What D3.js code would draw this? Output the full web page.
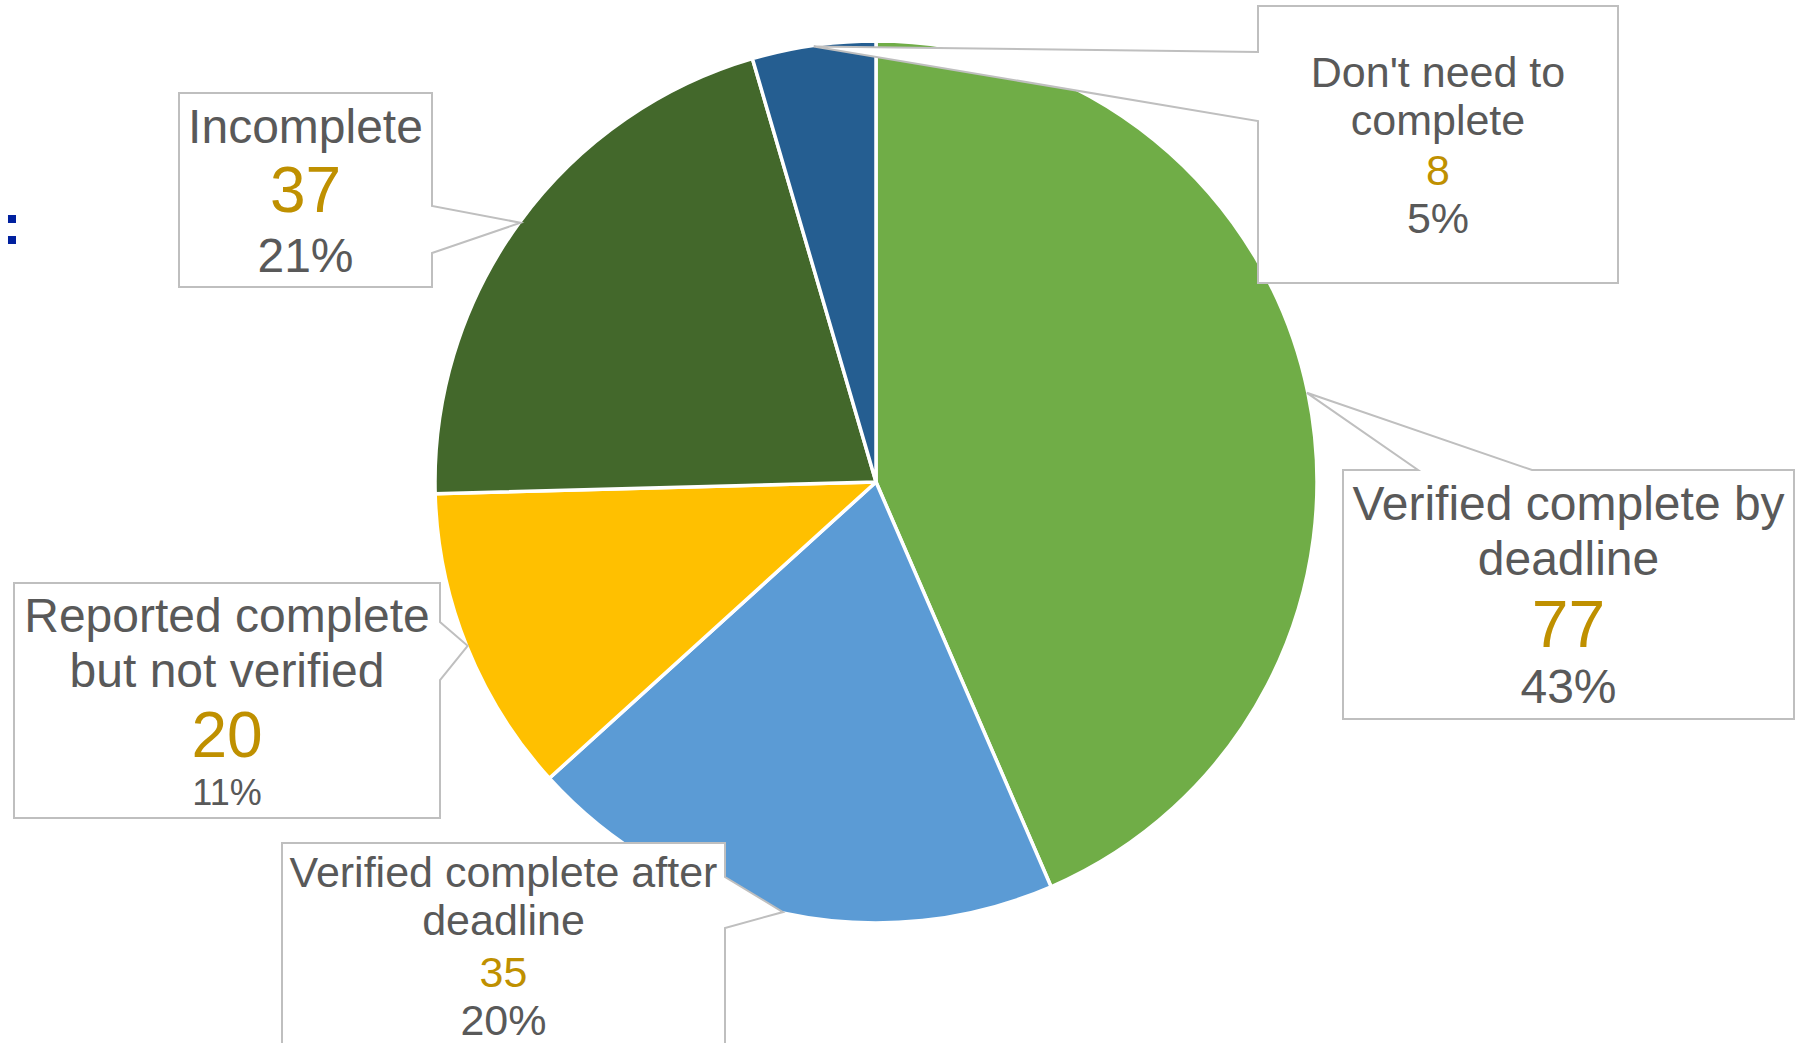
<!DOCTYPE html>
<html>
<head>
<meta charset="utf-8">
<script src="https://cdn.jsdelivr.net/npm/d3@7"></script>
<style>
  html, body { margin: 0; padding: 0; background: #fff; }
  svg { display: block; font-family: "Liberation Sans", Arial, sans-serif; }
</style>
</head>
<body>
<svg id="chart" width="1795" height="1043"></svg>
<script>
// data, clockwise from 12 o'clock
const categories = [
  "Verified complete by deadline",
  "Verified complete after deadline",
  "Reported complete but not verified",
  "Incomplete",
  "Don't need to complete"
];
const counts = [77, 35, 20, 37, 8];
const percentLabels = ["43%", "20%", "11%", "21%", "5%"];
const sliceColors = ["#70AD47", "#5B9BD5", "#FFC000", "#43682B", "#255E91"];

// callout boxes (layout only)
const callouts = [
  { box: [1343, 470, 1794, 719], side: "top", base: [1418, 1532],
    lines: ["Verified complete by", "deadline"], sizes: [48, 66, 48], baselines: [520, 575, 647, 703] },
  { box: [282, 843, 725, 1060], side: "right", base: [877, 928],
    lines: ["Verified complete after", "deadline"], sizes: [43, 43, 43], baselines: [887, 935, 987, 1035] },
  { box: [14, 583, 440, 818], side: "right", base: [622, 680],
    lines: ["Reported complete", "but not verified"], sizes: [48, 64, 36], baselines: [632, 687, 757, 805] },
  { box: [179, 93, 432, 287], side: "right", base: [206, 253],
    lines: ["Incomplete"], sizes: [48, 64, 48], baselines: [143, 212, 272] },
  { box: [1258, 6, 1618, 283], side: "left", base: [52, 121],
    lines: ["Don't need to", "complete"], sizes: [43, 43, 43], baselines: [87, 135, 185, 233] }
];

const cx = 876, cy = 482, radius = 441;
const svg = d3.select('#chart');

// stray title punctuation cut off at the left edge
svg.append('text')
  .attr('x', 12).attr('y', 244)
  .attr('text-anchor', 'middle')
  .attr('font-size', 57).attr('font-weight', 'bold')
  .attr('fill', '#00209F')
  .text(':');

const pie = d3.pie().sort(null).value(d => d);
const arcs = pie(counts);
const arc = d3.arc().innerRadius(0).outerRadius(radius);
const rim = d3.arc().innerRadius(radius - 1).outerRadius(radius - 1);

const g = svg.append('g').attr('transform', `translate(${cx},${cy})`);
g.selectAll('path.slice')
  .data(arcs)
  .join('path')
  .attr('class', 'slice')
  .attr('d', arc)
  .attr('fill', (d, i) => sliceColors[i])
  .attr('stroke', '#fff')
  .attr('stroke-width', 3.5)
  .attr('stroke-linejoin', 'round');

// wedge callouts, white filled, drawn over the pie
const calloutPath = (c, tip) => {
  const [x0, y0, x1, y1] = c.box;
  const [b0, b1] = c.base;
  const [tx, ty] = tip;
  if (c.side === 'top')
    return `M${x0},${y0}L${b0},${y0}L${tx},${ty}L${b1},${y0}L${x1},${y0}L${x1},${y1}L${x0},${y1}Z`;
  if (c.side === 'right')
    return `M${x0},${y0}L${x1},${y0}L${x1},${b0}L${tx},${ty}L${x1},${b1}L${x1},${y1}L${x0},${y1}Z`;
  return `M${x0},${y0}L${x1},${y0}L${x1},${y1}L${x0},${y1}L${x0},${b1}L${tx},${ty}L${x0},${b0}Z`;
};

arcs.forEach((d, i) => {
  const c = callouts[i];
  const [px, py] = rim.centroid(d);
  const tip = [cx + px, cy + py];
  const grp = svg.append('g').attr('class', 'callout');
  grp.append('path')
    .attr('d', calloutPath(c, tip))
    .attr('fill', '#fff')
    .attr('stroke', '#BFBFBF')
    .attr('stroke-width', 2);

  const midX = (c.box[0] + c.box[2]) / 2;
  const n = c.lines.length;
  c.lines.forEach((line, k) => {
    grp.append('text')
      .attr('x', midX).attr('y', c.baselines[k])
      .attr('text-anchor', 'middle')
      .attr('font-size', c.sizes[0])
      .attr('fill', '#595959')
      .text(line);
  });
  grp.append('text')
    .attr('x', midX).attr('y', c.baselines[n])
    .attr('text-anchor', 'middle')
    .attr('font-size', c.sizes[1])
    .attr('fill', '#BF9000')
    .text(counts[i]);
  grp.append('text')
    .attr('x', midX).attr('y', c.baselines[n + 1])
    .attr('text-anchor', 'middle')
    .attr('font-size', c.sizes[2])
    .attr('fill', '#595959')
    .text(percentLabels[i]);
});
</script>
</body>
</html>
